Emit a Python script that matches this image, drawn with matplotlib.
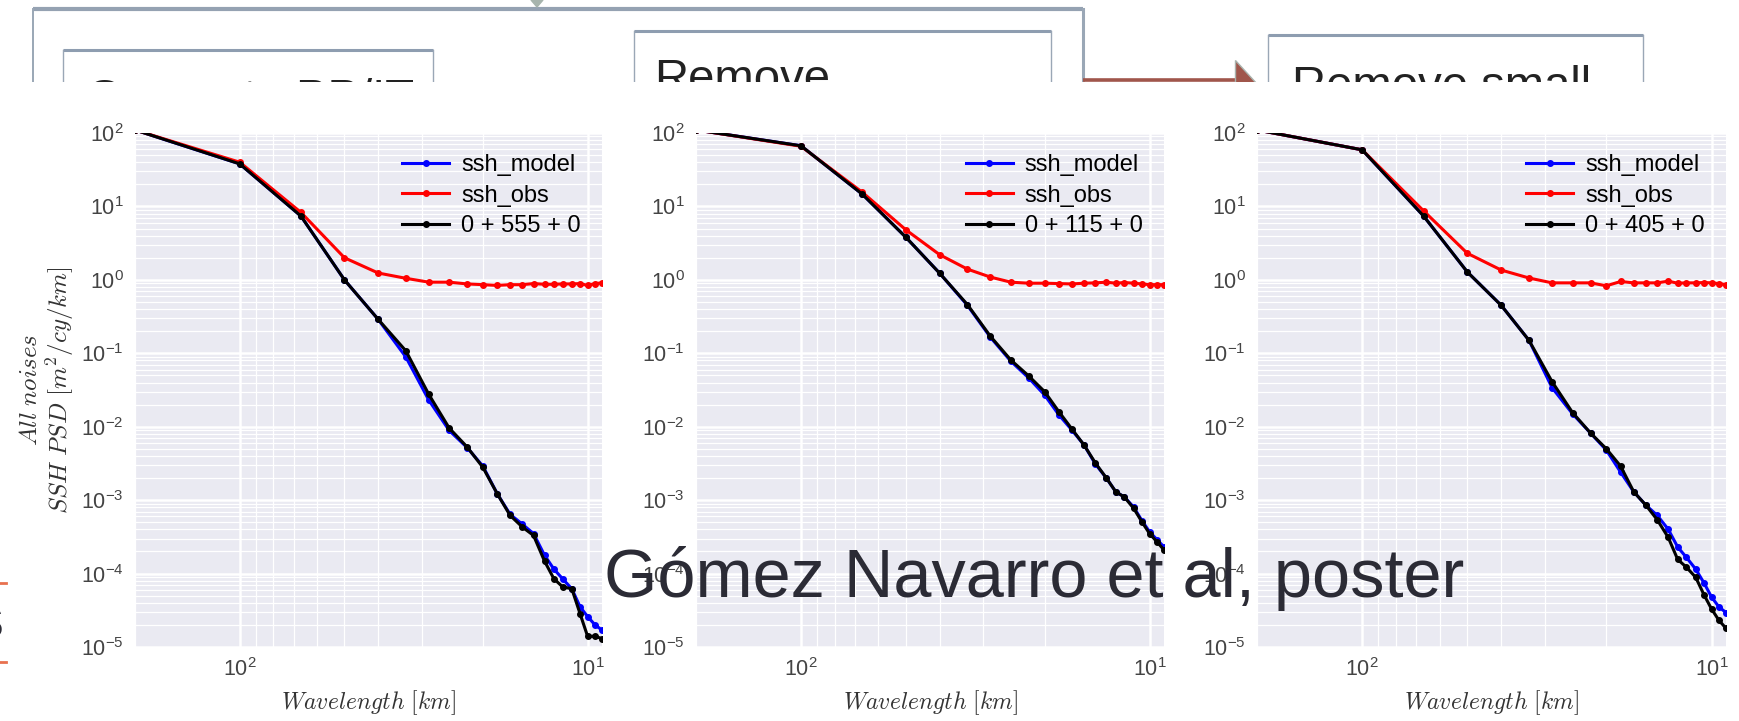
import numpy as np
import matplotlib.pyplot as plt
from matplotlib.patches import Rectangle, Polygon
from matplotlib.ticker import LogLocator, NullFormatter

'''Fonts'''
plt.rcParams['font.family'] = ['Liberation Sans', 'DejaVu Sans']
plt.rcParams['mathtext.fontset'] = 'cm'
plt.rcParams['axes.unicode_minus'] = False

'''Data read from the three spectra (wavelength in km, PSD in m^2/cy/km)'''
wavelength = [200, 100, 66.7, 50, 40, 33.3, 28.6, 25, 22.2, 20, 18.2, 16.7,
              15.4, 14.3, 13.3, 12.5, 11.8, 11.1, 10.5, 10, 9.52, 9.09]

p1_model = [110, 38, 7.4, 1.0, 0.29, 0.089, 0.023, 0.0089, 0.0052, 0.0029, 0.00123, 0.00064,
            0.00047, 0.00035, 0.000178, 0.000115, 8.5e-5, 6.2e-5, 3.5e-5, 2.6e-5, 2.0e-5, 1.7e-5]
p1_obs = [110, 40, 8.3, 2.0, 1.24, 1.05, 0.93, 0.93, 0.88, 0.86, 0.84, 0.86,
          0.86, 0.89, 0.87, 0.87, 0.88, 0.88, 0.89, 0.84, 0.89, 0.91]
p1_sum = [110, 38, 7.4, 1.0, 0.29, 0.108, 0.0275, 0.0096, 0.0053, 0.0028, 0.00123, 0.00062,
          0.00043, 0.00033, 0.000148, 8.5e-5, 6.6e-5, 6.2e-5, 2.8e-5, 1.4e-5, 1.4e-5, 1.3e-5]

p2_model = [110, 67, 14.7, 3.8, 1.23, 0.45, 0.165, 0.078, 0.046, 0.027, 0.0145, 0.0090,
            0.0056, 0.0031, 0.0020, 0.0013, 0.0011, 0.00080, 0.00052, 0.00037, 0.00029, 0.00023]
p2_obs = [110, 66, 15.6, 4.8, 2.2, 1.40, 1.09, 0.93, 0.90, 0.90, 0.89, 0.88,
          0.90, 0.91, 0.93, 0.90, 0.92, 0.90, 0.88, 0.86, 0.86, 0.86]
p2_sum = [110, 67, 14.7, 3.8, 1.23, 0.46, 0.17, 0.081, 0.049, 0.030, 0.016, 0.0093,
          0.0056, 0.0032, 0.0020, 0.0013, 0.0011, 0.00077, 0.0005, 0.00035, 0.00027, 0.00021]

p3_model = [110, 59, 7.4, 1.28, 0.45, 0.15, 0.034, 0.0150, 0.0082, 0.0048, 0.0024, 0.0013,
            0.00085, 0.00062, 0.0004, 0.00023, 0.000166, 0.000115, 7.4e-5, 4.8e-5, 3.5e-5, 2.95e-5]
p3_obs = [110, 59, 8.7, 2.3, 1.36, 1.06, 0.91, 0.91, 0.91, 0.83, 0.95, 0.91,
          0.91, 0.91, 0.96, 0.90, 0.91, 0.91, 0.92, 0.91, 0.89, 0.86]
p3_sum = [110, 59, 7.4, 1.28, 0.45, 0.15, 0.041, 0.0156, 0.0082, 0.0050, 0.0029, 0.0013,
          0.00085, 0.00054, 0.00031, 0.000156, 0.000122, 8.9e-5, 5.1e-5, 3.3e-5, 2.3e-5, 1.8e-5]

sum_labels = ['0 + 555 + 0', '0 + 115 + 0', '0 + 405 + 0']
box_texts = ['Generate PP/IT', 'Remove', 'Remove small-']

'''Figure in pixel units'''
W, H = 1739, 721
fig = plt.figure(figsize=(W / 100, H / 100), dpi=100)

bg = fig.add_axes([0, 0, 1, 1], zorder=-1)
bg.set_xlim(0, W)
bg.set_ylim(H, 0)
bg.axis('off')

'''Slide elements behind the pasted figure'''
edge = '#9AA7B6'
# outer container
bg.plot([33, 1083], [9, 9], color='#95A2B2', lw=3, solid_capstyle='butt', zorder=2)
bg.plot([33, 33], [9, 90], color=edge, lw=1.4, zorder=2)
bg.plot([1083, 1083], [9, 80], color=edge, lw=2.2, zorder=2)
bg.add_patch(Polygon([[531, 0], [543, 0], [537, 7]], closed=True, color='#A7B4AD', zorder=3))
# brown connector arrow
bg.plot([1083, 1237], [80, 80], color='#A0564B', lw=2.6, solid_capstyle='butt', zorder=2)
bg.add_patch(Polygon([[1235, 60], [1235, 84], [1257, 84]], closed=True,
                     facecolor='#A0564B', edgecolor='#A9B3AD', lw=1, zorder=2))

boxes = [(63, 433, 50), (634, 1051, 31), (1268, 1643, 35)]
text_pos = [(86, 112), (654, 92), (1292, 99)]
for (x0, x1, top), (tx, ty), label in zip(boxes, text_pos, box_texts):
    bg.plot([x0, x1], [top, top], color='#8E9DB0', lw=2.2, solid_capstyle='butt', zorder=2)
    bg.plot([x0, x0], [top, 90], color=edge, lw=1.0, zorder=2)
    bg.plot([x1, x1], [top, 90], color=edge, lw=1.0, zorder=2)
    bg.text(tx, ty, label, fontsize=34, color='#222222', va='baseline', ha='left', zorder=3)

# pasted figure covers the rest
cover = Rectangle((6, 82), W, H, facecolor='white', edgecolor='none', zorder=5)
bg.add_patch(cover)

# remnants of the slide at the left border
bg.plot([0, 6], [583, 583], color='#E8714F', lw=2, zorder=6)
bg.plot([0, 6], [662, 662], color='#E8714F', lw=2, zorder=6)
bg.text(4, 638, 'S', fontsize=32, color='#2B2B35', ha='right', va='baseline', zorder=4)

'''Three spectra panels'''
panels = [(135, 602), (696, 1164), (1257, 1726)]
top, bottom = 133, 647
series = [(p1_model, p1_obs, p1_sum), (p2_model, p2_obs, p2_sum), (p3_model, p3_obs, p3_sum)]

for i, ((l, r), (model, obs, tot)) in enumerate(zip(panels, series)):
    ax = fig.add_axes([l / W, 1 - bottom / H, (r - l) / W, (bottom - top) / H], zorder=1)
    ax.set_facecolor('#EAEAF2')
    for s in ax.spines.values():
        s.set_visible(False)
    ax.set_xscale('log')
    ax.set_yscale('log')
    ax.plot(wavelength, model, color='b', marker='o', ms=4, lw=2.2, label='ssh_model')
    ax.plot(wavelength, obs, color='r', marker='o', ms=4, lw=2.2, label='ssh_obs')
    ax.plot(wavelength, tot, color='k', marker='o', ms=4, lw=2.2, label=sum_labels[i])
    ax.set_xlim(200, 9.09)
    ax.set_ylim(1e-5, 1e2)
    ax.yaxis.set_major_locator(LogLocator(base=10, numticks=10))
    ax.yaxis.set_minor_locator(LogLocator(base=10, subs=np.arange(2, 10), numticks=10))
    ax.xaxis.set_minor_formatter(NullFormatter())
    ax.yaxis.set_minor_formatter(NullFormatter())
    ax.grid(True, which='major', color='white', lw=1.8)
    ax.grid(True, which='minor', color='white', lw=0.9)
    ax.set_axisbelow(True)
    ax.tick_params(which='both', length=0, labelsize=15.5, labelcolor='#444444')
    ax.tick_params(axis='y', pad=8)
    ax.tick_params(axis='x', pad=8)
    ax.set_xlabel(r'$Wavelength\ [km]$', fontsize=17, color='#333333', labelpad=5)
    if i == 0:
        ax.set_ylabel(r'$All\ noises$' + '\n' + r'$SSH\ PSD\ [m^2/cy/km]$',
                      fontsize=18, color='#333333', labelpad=4, linespacing=1.1)
    ax.legend(loc='upper right', frameon=False, fontsize=17, labelspacing=0.35,
              handlelength=2.0, handletextpad=0.5, borderaxespad=0.5)

'''Caption pasted on top'''
fig.text(1034 / W, 1 - 597 / H, 'Gómez Navarro et al, poster', fontsize=49.3,
         color='#2B2B35', ha='center', va='baseline', zorder=10)

fig.savefig('out.png', dpi=100)
